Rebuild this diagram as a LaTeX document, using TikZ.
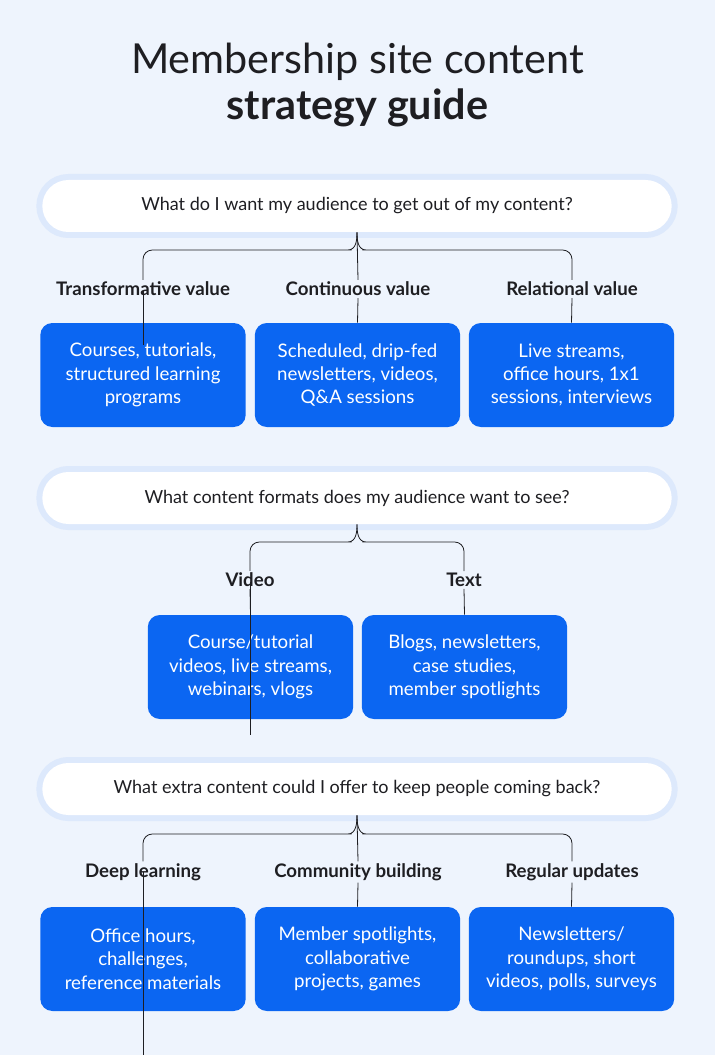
\documentclass[tikz,border=0pt]{standalone}
\usepackage{fontspec}
\setmainfont{Lato}
\usetikzlibrary{positioning}
\definecolor{bgblue}{HTML}{EEF4FD}
\definecolor{boxblue}{HTML}{0B66F2}
\definecolor{glowblue}{HTML}{DDE9FC}
\definecolor{inkgray}{HTML}{1E1E22}

\begin{document}
\begin{tikzpicture}[
    x=0.75pt, y=-0.75pt,
    pill/.style={fill=white, rounded corners=19.5pt, minimum width=472pt, minimum height=39pt,
                 font=\fontsize{13.5}{16}\selectfont, text=inkgray,
                 preaction={draw=glowblue, line width=9pt, rounded corners=19.5pt}},
    head/.style={font=\fontsize{14}{16}\selectfont\bfseries, text=inkgray},
    card/.style={fill=boxblue, rounded corners=9pt, minimum width=154pt, minimum height=78pt,
                 align=center, text=white, font=\fontsize{14}{17.5}\selectfont},
    link/.style={draw=inkgray, line width=0.6pt},
]
\useasboundingbox (0,0) rectangle (715,1055);
\fill[bgblue] (0,0) rectangle (715,1055);

% -- Title --
\node[font=\fontsize{31}{36}\selectfont, text=inkgray] (title1) at (357.5,62) {Membership site content};
\node[font=\fontsize{31}{36}\selectfont\bfseries, text=inkgray] (title2) at (357.5,108) {strategy guide};

% -- Section 1 --
\node[pill] (q1) at (357,206) {What do I want my audience to get out of my content?};
\node[head] (h1a) at (143,289) {Transformative value};
\node[head] (h1b) at (358,289) {Continuous value};
\node[head] (h1c) at (572,289) {Relational value};
\node[card] (c1a) at (143,375) {Courses, tutorials,\\structured learning\\programs};
\node[card] (c1b) at (357.5,375) {Scheduled, drip-fed\\newsletters, videos,\\Q\&A sessions};
\node[card] (c1c) at (571.5,375) {Live streams,\\office hours, 1x1\\sessions, interviews};

% -- Section 2 --
\node[pill] (q2) at (357,498) {What content formats does my audience want to see?};
\node[head] (h2a) at (250,580) {Video};
\node[head] (h2b) at (464,580) {Text};
\node[card] (c2a) at (250.5,667) {Course/tutorial\\videos, live streams,\\webinars, vlogs};
\node[card] (c2b) at (464.5,667) {Blogs, newsletters,\\case studies,\\member spotlights};

% -- Section 3 --
\node[pill] (q3) at (357,789) {What extra content could I offer to keep people coming back?};
\node[head] (h3a) at (143,872) {Deep learning};
\node[head] (h3b) at (358,872) {Community building};
\node[head] (h3c) at (572,872) {Regular updates};
\node[card] (c3a) at (143,959) {Office hours,\\challenges,\\reference materials};
\node[card] (c3b) at (357.5,959) {Member spotlights,\\collaborative\\projects, games};
\node[card] (c3c) at (571.5,959) {Newsletters/\\roundups, short\\videos, polls, surveys};

% -- Braces --
\foreach \q/\l/\r/\hy in {q1/h1a/h1c/250, q2/h2a/h2b/542, q3/h3a/h3c/834} {
  \draw[link] ([yshift=-10pt]\l.north) -- ([yshift=-10pt-1pt*(\hy-1)]\l.north |- 0,0)
    ;
}
\foreach \q/\l/\r/\hy in {q1/h1a/h1c/250, q2/h2a/h2b/542, q3/h3a/h3c/834} {
  \draw[link, rounded corners=7pt] ([yshift=-2pt]\l.north) |- (\q.south |- 0,\hy)
    .. controls +(-0.8,0) and ([yshift=-6pt]\q.south) .. (\q.south);
  \draw[link, rounded corners=7pt] ([yshift=-2pt]\r.north) |- (\q.south |- 0,\hy)
    .. controls +(0.8,0) and ([yshift=-6pt]\q.south) .. (\q.south);
}
\draw[link] (q1.south) -- ([yshift=-2pt]h1b.north);
\draw[link] (q3.south) -- ([yshift=-2pt]h3b.north);

% -- Heads to cards --
\foreach \h/\c in {h1a/c1a, h1b/c1b, h1c/c1c, h2a/c2a, h2b/c2b, h3a/c3a, h3b/c3b, h3c/c3c}
  \draw[link] ([yshift=2pt]\h.south) -- (\c.north);
\end{tikzpicture}
\end{document}
